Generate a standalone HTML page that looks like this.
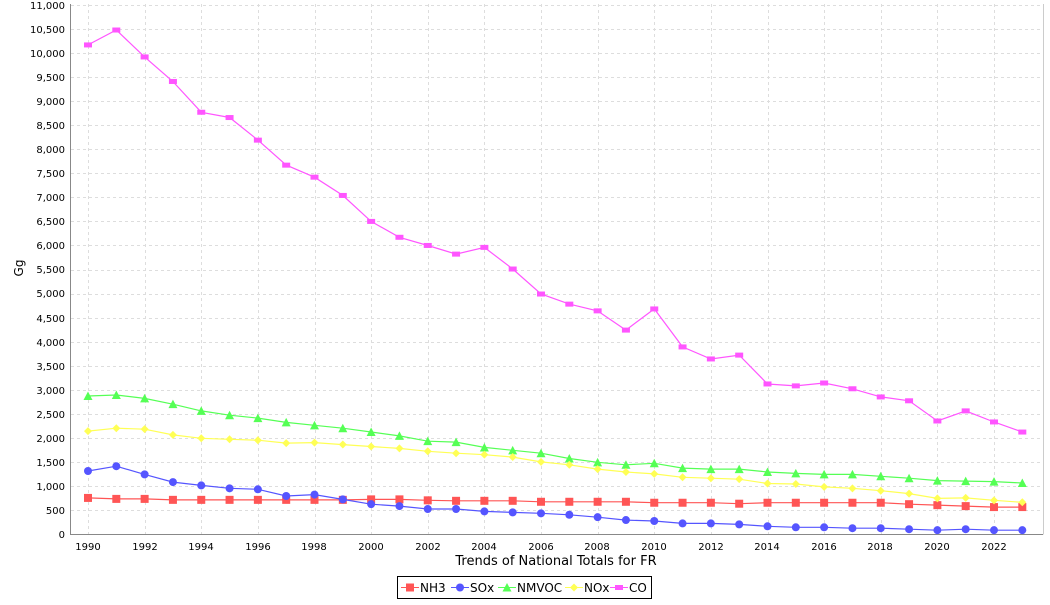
<!DOCTYPE html>
<html><head><meta charset="utf-8"><style>
body{margin:0;background:#fff;}
svg{font-family:"DejaVu Sans","Liberation Sans",sans-serif;}
</style></head><body>
<svg id="c" width="1050" height="600" xmlns="http://www.w3.org/2000/svg">
<rect width="1050" height="600" fill="#fff"/>
<g id="grid"></g>
<line x1="70.5" y1="4" x2="70.5" y2="534.5" stroke="#888"/>
<line x1="70" y1="534.5" x2="1043" y2="534.5" stroke="#888"/>
<line x1="1043.5" y1="4" x2="1043.5" y2="534.5" stroke="#ccc"/>
<g font-size="10" fill="#000" text-anchor="end" id="yl">
<text x="65" y="9">11,000</text><text x="65" y="33">10,500</text><text x="65" y="57">10,000</text>
<text x="65" y="81">9,500</text><text x="65" y="105">9,000</text><text x="65" y="129">8,500</text>
<text x="65" y="153">8,000</text><text x="65" y="177">7,500</text><text x="65" y="201">7,000</text>
<text x="65" y="225">6,500</text><text x="65" y="249">6,000</text><text x="65" y="273">5,500</text>
<text x="65" y="297">5,000</text><text x="65" y="322">4,500</text><text x="65" y="346">4,000</text>
<text x="65" y="370">3,500</text><text x="65" y="394">3,000</text><text x="65" y="418">2,500</text>
<text x="65" y="442">2,000</text><text x="65" y="466">1,500</text><text x="65" y="490">1,000</text>
<text x="65" y="514">500</text><text x="65" y="538">0</text>
</g>
<g font-size="10" fill="#000" text-anchor="middle">
<text x="88" y="550">1990</text><text x="145" y="550">1992</text><text x="201" y="550">1994</text>
<text x="258" y="550">1996</text><text x="314" y="550">1998</text><text x="371" y="550">2000</text>
<text x="428" y="550">2002</text><text x="484" y="550">2004</text><text x="541" y="550">2006</text>
<text x="597" y="550">2008</text><text x="654" y="550">2010</text><text x="711" y="550">2012</text>
<text x="767" y="550">2014</text><text x="824" y="550">2016</text><text x="880" y="550">2018</text>
<text x="937" y="550">2020</text><text x="994" y="550">2022</text>
</g>
<text x="556" y="565" font-size="13" text-anchor="middle">Trends of National Totals for FR</text>
<text x="23" y="268" font-size="12" text-anchor="middle" transform="rotate(-90 23 268)">Gg</text>
<g id="series"></g>
<rect x="397.5" y="576.5" width="254" height="22" fill="#fff" stroke="#000"/>
<g font-size="12" fill="#000">
<line x1="401" y1="587.5" x2="419" y2="587.5" stroke="#ff5555"/><rect x="406" y="583.5" width="8" height="8" fill="#ff5555"/><text x="420" y="592">NH3</text>
<line x1="451" y1="587.5" x2="469" y2="587.5" stroke="#5555ff"/><circle cx="460" cy="587.5" r="4" fill="#5555ff"/><text x="470" y="592">SOx</text>
<line x1="498" y1="587.5" x2="516" y2="587.5" stroke="#55ff55"/><polygon points="507,583 511.5,591.5 502.5,591.5" fill="#55ff55"/><text x="517" y="592">NMVOC</text>
<line x1="565" y1="587.5" x2="583" y2="587.5" stroke="#ffff55"/><polygon points="574,583.5 578,587.5 574,591.5 570,587.5" fill="#ffff55"/><text x="584" y="592">NOx</text>
<line x1="610" y1="587.5" x2="628" y2="587.5" stroke="#ff55ff"/><rect x="615" y="585" width="8" height="5" fill="#ff55ff"/><text x="629" y="592">CO</text>
</g>
</svg>
<script>
function X(i){return 88+i*28.3125;}
function Y(v){return 534-v*0.04809;}
var g=document.getElementById('grid'),s="";
for(var v=500;v<=11000;v+=500){var y=Math.round(Y(v))+0.5;s+='<line x1="71" y1="'+y+'" x2="1043" y2="'+y+'" stroke="#ddd" stroke-dasharray="3,3"/>';}
for(var i=0;i<=32;i+=2){var x=Math.round(X(i))+0.5;s+='<line x1="'+x+'" y1="4" x2="'+x+'" y2="534" stroke="#ddd" stroke-dasharray="3,3"/>';}
g.innerHTML=s;
var D={
NMVOC:[2870,2890,2820,2700,2560,2470,2410,2320,2260,2200,2120,2040,1930,1910,1800,1740,1680,1570,1490,1440,1470,1370,1350,1350,1290,1260,1240,1240,1200,1160,1110,1100,1090,1060],
NOx:[2140,2200,2180,2060,1990,1970,1950,1890,1900,1860,1820,1780,1720,1680,1650,1600,1500,1440,1350,1290,1250,1180,1160,1140,1050,1040,980,950,900,840,740,750,700,660],
NH3:[750,730,730,710,710,710,710,710,710,710,720,720,700,690,690,690,670,670,670,670,650,650,650,630,650,650,650,650,650,620,600,580,560,560],
SOx:[1310,1410,1240,1080,1010,950,930,790,820,720,620,580,520,520,470,450,430,400,350,290,270,220,220,200,160,140,140,120,120,100,80,100,80,80],
CO:[10170,10480,9920,9410,8770,8660,8190,7670,7420,7040,6500,6170,6000,5820,5960,5510,4990,4780,4640,4240,4680,3890,3640,3720,3120,3080,3140,3020,2850,2770,2350,2560,2330,2120]};
var C={NH3:"#ff5555",SOx:"#5555ff",NMVOC:"#55ff55",NOx:"#ffff55",CO:"#ff55ff"};
var out="";
["NH3","SOx","NMVOC","NOx","CO"].forEach(function(k){
 var p=D[k].map(function(v,i){return X(i).toFixed(1)+","+Y(v).toFixed(1);}).join(" ");
 out+='<polyline points="'+p+'" fill="none" stroke="'+C[k]+'" stroke-width="1.2"/>';
 D[k].forEach(function(v,i){var x=X(i),y=Y(v),c=C[k];
  if(k=="NH3")out+='<rect x="'+(x-4)+'" y="'+(y-4)+'" width="8" height="8" fill="'+c+'"/>';
  else if(k=="SOx")out+='<circle cx="'+x+'" cy="'+y+'" r="4" fill="'+c+'"/>';
  else if(k=="NMVOC")out+='<polygon points="'+x+','+(y-4.5)+' '+(x+4.5)+','+(y+4)+' '+(x-4.5)+','+(y+4)+'" fill="'+c+'"/>';
  else if(k=="NOx")out+='<polygon points="'+x+','+(y-4)+' '+(x+4)+','+y+' '+x+','+(y+4)+' '+(x-4)+','+y+'" fill="'+c+'"/>';
  else out+='<rect x="'+(x-4)+'" y="'+(y-2.5)+'" width="8" height="5" fill="'+c+'"/>';
 });
});
document.getElementById('series').innerHTML=out;
</script>
</body></html>
